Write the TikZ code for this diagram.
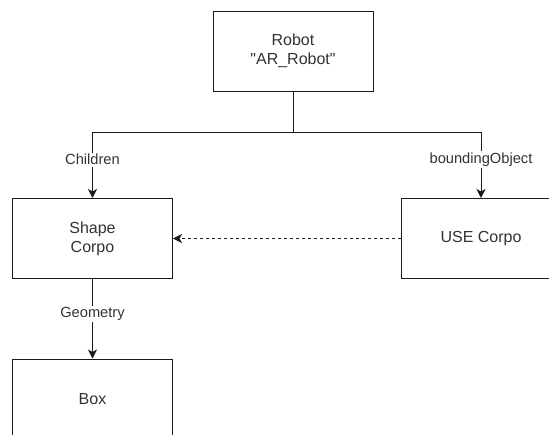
\documentclass[tikz,border=0pt]{standalone}
\usepackage{fontspec}
\setmainfont{Liberation Sans}
\usetikzlibrary{arrows.meta}
\definecolor{textc}{HTML}{333333}
\definecolor{linec}{HTML}{1A1A1A}
\tikzset{
  boxnode/.style={draw=linec, line width=1pt, minimum width=160pt, minimum height=80pt,
    inner sep=0pt, align=center, text=textc, font=\fontsize{16}{19}\selectfont},
  lbl/.style={fill=white, inner sep=1.5pt, text=textc, font=\fontsize{14.67}{17}\selectfont},
  conn/.style={draw=linec, line width=1pt},
  tip/.style={-{Stealth[length=9pt,width=9pt,inset=2.5pt]}},
  dashconn/.style={conn, dash pattern=on 3pt off 3pt}
}
\begin{document}
\begin{tikzpicture}[x=1pt,y=-1pt]
\useasboundingbox (0,0) rectangle (549,434);
\clip (0,0) rectangle (549,434);
\fill[white] (0,0) rectangle (549,434);
\node[boxnode] (robot) at (293,51) {Robot\\\textquotedbl AR\_Robot\textquotedbl};
\node[boxnode] (shape) at (92.5,238.5) {Shape\\Corpo};
\node[boxnode] (use) at (481,238.5) {USE Corpo};
\node[boxnode] (box) at (92.5,399) {Box};
\coordinate (jm) at (293,132);
\coordinate (jl) at (92.5,132);
\coordinate (jr) at (481,132);
\draw[conn] (robot.south) -- (jm);
\draw[conn,tip] (jm) -- (jl) -- node[lbl,pos=0.42] {Children} (shape.north);
\draw[conn,tip] (jm) -- (jr) -- node[lbl,pos=0.42] {boundingObject} (use.north);
\draw[dashconn,tip] (use.west) -- (shape.east);
\draw[conn,tip] (shape.south) -- node[lbl,pos=0.44] {Geometry} (box.north);
\end{tikzpicture}
\end{document}
